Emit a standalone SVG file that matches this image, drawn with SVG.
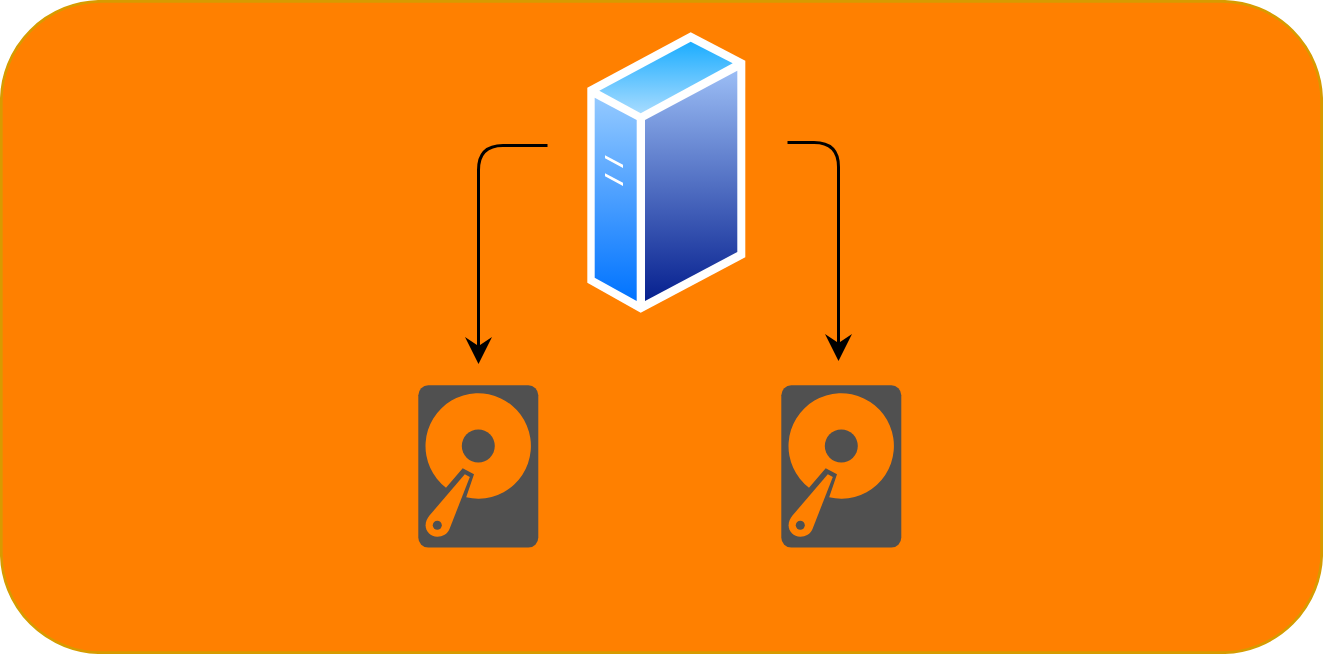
<svg xmlns="http://www.w3.org/2000/svg" xmlns:xlink="http://www.w3.org/1999/xlink" width="1323" height="654" viewBox="0 0 1323 654">
<style>
.wire{fill:none;stroke:#000;stroke-width:3}
.case{fill:#505050}
.cut{fill:#ff8000}
</style>
<defs>
<linearGradient id="gTop" gradientUnits="userSpaceOnUse" x1="666" y1="42" x2="666" y2="113"><stop offset="0" stop-color="#1cadff"/><stop offset="1" stop-color="#a6dbff"/></linearGradient>
<linearGradient id="gLeft" gradientUnits="userSpaceOnUse" x1="616" y1="98" x2="616" y2="301"><stop offset="0" stop-color="#93c9ff"/><stop offset="1" stop-color="#0073ff"/></linearGradient>
<linearGradient id="gRight" gradientUnits="userSpaceOnUse" x1="691" y1="71" x2="691" y2="301"><stop offset="0" stop-color="#9bbdf5"/><stop offset="1" stop-color="#06208f"/></linearGradient>
<marker id="arrow" markerUnits="userSpaceOnUse" markerWidth="28" markerHeight="30" refX="18" refY="13.5" orient="auto"><path d="M27 13.5L0 0L9 13.5L0 27Z" fill="#000"/></marker>
<g id="disk">
<rect class="case" x="418.3" y="385.3" width="120" height="162.3" rx="10" ry="10"/>
<path class="cut" d="M446 487.7A52.7 52.7 0 1 1 466.2 497.3L474 474.3L462.7 468.3Z"/>
<circle class="case" cx="478.3" cy="446" r="16.5"/>
<path class="cut" d="M464.8 474.3L469.8 477L449.5 529C447.5 534 442.5 536.7 437.3 536.7C430.5 536.7 425.6 531.5 425.6 525.3C425.6 521 427.2 518.5 429.5 515.5Z"/>
<circle class="case" cx="437.3" cy="525.3" r="4.5"/>
</g>
</defs>
<g id="background"><rect x="1.3" y="1.3" width="1320.4" height="651.4" rx="100" ry="100" fill="#ff8000" stroke="#d79b00" stroke-width="2.7"/></g>
<g id="connectors">
<path class="wire" marker-end="url(#arrow)" d="M547.5 145.5H503Q478.5 145.5 478.5 170V355"/>
<path class="wire" marker-end="url(#arrow)" d="M787.5 142.5H814Q838.5 142.5 838.5 167V352"/>
</g>
<g id="server">
<path fill="#fff" d="M690.7 32.3L745.3 60.7V257.3L640.7 312.7L587.3 282.7V87.7Z"/>
<path fill="url(#gTop)" d="M690.7 41.7L732.7 63.3L640.7 113.3L599.3 90.7Z"/>
<path fill="url(#gLeft)" d="M594.7 97.7L636.7 120V301L594.7 277.7Z"/>
<path fill="url(#gRight)" d="M645 120L737.3 70.7V252L645 301Z"/>
<path fill="#fff" d="M605 155.3L623 164.7V168L605 158.3ZM605 173.3L623 182.7V186L605 176.3Z"/>
</g>
<g id="disk-left"><use xlink:href="#disk" href="#disk"/></g>
<g id="disk-right"><use xlink:href="#disk" href="#disk" x="363"/></g>
</svg>
